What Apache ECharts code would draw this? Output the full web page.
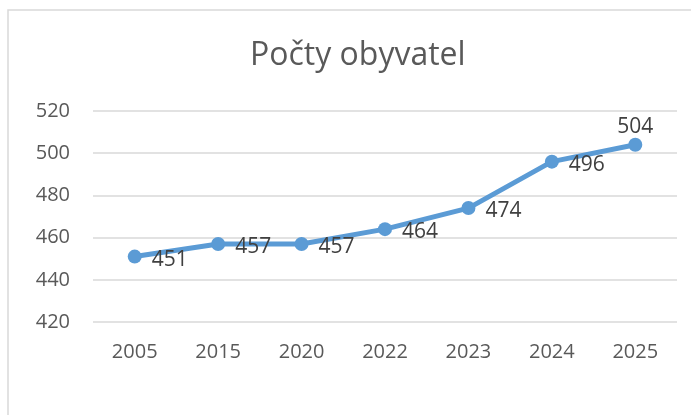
<!DOCTYPE html>
<html>
<head>
<meta charset="utf-8">
<script src="https://cdn.jsdelivr.net/npm/echarts@6/dist/echarts.min.js"></script>
<style>
  html, body { margin: 0; padding: 0; background: #fff; }
  #chart { width: 691px; height: 415px; }
</style>
</head>
<body>
<div id="chart"></div>
<script>
// data
const years = ['2005', '2015', '2020', '2022', '2023', '2024', '2025'];
const population = [451, 457, 457, 464, 474, 496, 504];
const yMin = 420, yMax = 520, yStep = 20;

const chart = echarts.init(document.getElementById('chart'));
const font = '"Open Sans", "Noto Sans", sans-serif';

chart.setOption({
    animation: false,
    textStyle: { fontFamily: font },
    graphic: [{
        type: 'rect',
        shape: { x: 8, y: 10, width: 720, height: 440 },
        style: { fill: 'none', stroke: '#d9d9d9', lineWidth: 1.5 },
        silent: true
    }],
    title: {
        text: 'Počty obyvatel',
        left: 245,
        top: 35,
        textStyle: { fontFamily: font, fontSize: 32, fontWeight: 'normal', color: '#595959' }
    },
    grid: { left: 93, right: 14, top: 111, bottom: 93 },
    xAxis: {
        type: 'category',
        data: years,
        boundaryGap: true,
        axisLine: { show: false },
        axisTick: { show: false },
        axisLabel: { fontFamily: font, fontSize: 20, color: '#595959', margin: 20 }
    },
    yAxis: {
        type: 'value',
        min: yMin,
        max: yMax,
        interval: yStep,
        axisLine: { show: false },
        axisTick: { show: false },
        splitLine: { lineStyle: { color: '#d9d9d9', width: 1.5 } },
        axisLabel: { fontFamily: font, fontSize: 20, color: '#595959', margin: 23 }
    },
    series: [{
        type: 'line',
        data: population.map((v, i) => ({
            value: v,
            label: i === population.length - 1
                ? { position: 'top', offset: [0, 5] }
                : { position: 'right', offset: [5, 3] }
        })),
        symbol: 'circle',
        symbolSize: 14,
        lineStyle: { color: '#5b9bd5', width: 5 },
        itemStyle: { color: '#5b9bd5' },
        label: {
            show: true,
            fontFamily: font,
            fontSize: 21,
            color: '#404040'
        }
    }]
});
</script>
</body>
</html>
